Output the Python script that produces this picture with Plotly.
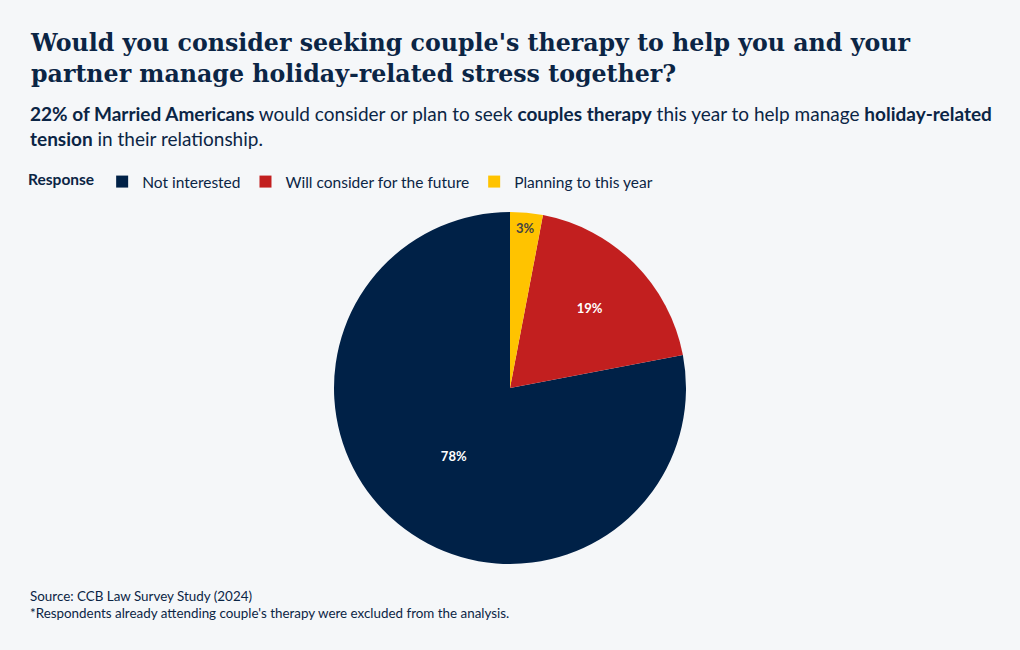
import plotly.graph_objects as go

labels = ["Not interested", "Will consider for the future", "Planning to this year"]
values = [78, 19, 3]
colors = ["#002147", "#c21f1f", "#ffc300"]

title_text = ("<b>Would you consider seeking couple's therapy to help you and your<br>"
              "partner manage holiday-related stress together?</b>")
subtitle_text = ("<b>22% of Married Americans</b> would consider or plan to seek <b>couples therapy</b> "
                 "this year to help manage <b>holiday-related<br>tension</b> in their relationship.")
footer_text = ("Source: CCB Law Survey Study (2024)<br>"
               "*Respondents already attending couple's therapy were excluded from the analysis.")

TXT = "#0b2545"
BG = "#f5f7f9"
H = 650
T, B = 212, 86
ph = H - T - B


def py(p):
    return (H - B - p) / ph


# first slice (counterclockwise mode) begins at the rotation angle; place the small slices from 12 o'clock
start_angle = 360 * sum(values[1:]) / sum(values)

fig = go.Figure(go.Pie(
    labels=labels, values=values, sort=False, direction="counterclockwise", rotation=start_angle,
    marker=dict(colors=colors), textinfo="percent", texttemplate="<b>%{percent:.0%}</b>",
    textfont=dict(size=13, family="Lato"), hoverinfo="label+percent",
))

fig.update_layout(
    width=1020, height=H, paper_bgcolor=BG, plot_bgcolor=BG,
    margin=dict(l=28, r=28, t=T, b=B),
    font=dict(family="Lato", color=TXT),
    showlegend=True,
    legend=dict(orientation="h", x=-0.002, xanchor="left", y=py(182), yanchor="middle",
                title=dict(text="<b>Response</b>", font=dict(size=15.5)),
                font=dict(size=15.5, color=TXT), itemwidth=30, traceorder="normal"),
    annotations=[
        dict(text=title_text, x=0, xref="paper", xanchor="left", y=py(27), yref="paper", yanchor="top",
             showarrow=False, align="left", font=dict(family="DejaVu Serif", size=23.7, color=TXT)),
        dict(text=subtitle_text, x=0, xref="paper", xanchor="left", y=py(100), yref="paper", yanchor="top",
             showarrow=False, align="left", font=dict(family="Lato", size=19, color=TXT)),
        dict(text=footer_text, x=0, xref="paper", xanchor="left", y=py(586), yref="paper", yanchor="top",
             showarrow=False, align="left", font=dict(family="Lato", size=13.4, color=TXT)),
    ],
)

fig.write_html("out.html", config={"displayModeBar": False},
               post_script="document.body.style.margin='0';document.body.style.overflow='hidden';")
